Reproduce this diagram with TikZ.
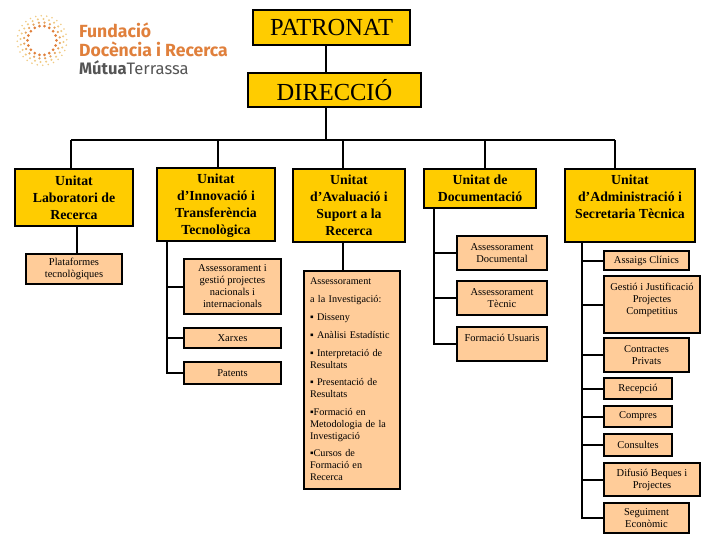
\documentclass[tikz,border=0pt]{standalone}
\usepackage{fontspec}
\setmainfont{Liberation Serif}
\newfontfamily\logofont{Fira Sans}
\definecolor{gold}{HTML}{FFCC00}
\definecolor{peach}{HTML}{FFCC99}
\definecolor{logoor}{HTML}{E0803C}
\definecolor{logomd}{HTML}{E5A35F}
\definecolor{logoyl}{HTML}{F0CB85}
\definecolor{logogr}{HTML}{555555}
\tikzset{
  topbox/.style={draw=black,line width=2.2pt,fill=gold,inner sep=0pt,align=center,font=\fontsize{24.5}{28}\selectfont},
  unitbox/.style={draw=black,line width=2.2pt,fill=gold,inner sep=0pt,align=center,font=\fontsize{13.8}{17}\selectfont\bfseries},
  subbox/.style={draw=black,line width=2pt,fill=peach,inner sep=0pt,align=center,font=\fontsize{10.5}{12}\selectfont},
  conn/.style={draw=black,line width=2pt},
  logotext/.style={inner sep=0pt,anchor=base west,font=\logofont}
}
\newcommand{\bx}[7]{\node[#6,minimum width={(#4-#2)*1pt},minimum height={(#5-#3)*1pt}] (#1) at ({(#2+#4)/2},{(#3+#5)/2}) {#7};}
\begin{document}
\begin{tikzpicture}[x=1pt,y=-1pt]
\useasboundingbox (0,0) rectangle (720,540);
% logo
\foreach \r/\n/\c/\s/\o in {14.5/18/logoor/1.5/0,18/20/logomd/1.25/8,21.5/24/logoyl/1.15/4,24.8/28/logoyl/0.9/11}{
  \foreach \i in {1,...,\n}{
    \fill[\c] ({42+\r*cos(\i*360/\n+\o)},{40.5+\r*sin(\i*360/\n+\o)}) circle (\s);
  }
}
\node[logotext,text=logoor] (fund) at (79,38) {\fontsize{17.6}{20}\selectfont\bfseries Fundació};
\node[logotext,text=logoor] (doc) at (79,57) {\fontsize{17.6}{20}\selectfont\bfseries Docència i Recerca};
\node[logotext,text=logogr] (mut) at (79,75) {\fontsize{16.6}{20}\selectfont\textbf{Mútua}Terrassa};
% top
\bx{pat}{253}{10}{410}{45}{topbox}{PATRONAT}
\bx{dir}{248}{73}{421}{107}{topbox}{DIRECCIÓ}
% units
\bx{lab}{15}{169}{133}{226}{unitbox}{Unitat\\Laboratori de\\Recerca}
\bx{inn}{157}{168}{275}{241}{unitbox}{Unitat\\d’Innovació i\\Transferència\\\smash{Tecnològica}}
\bx{ava}{293}{169}{405}{242}{unitbox}{Unitat\\d’Avaluació i\\Suport a la\\Recerca}
\bx{docu}{424}{169}{536}{208}{unitbox}{Unitat de\\Documentació}
\bx{adm}{565}{169}{695}{242}{unitbox}{Unitat\\d’Administració i\\Secretaria Tècnica\\ \mbox{}}
% subs
\bx{pla}{26}{254}{122}{284}{subbox}{Plataformes\\tecnològiques}
\bx{ges}{184}{259}{281}{314}{subbox}{Assessorament i\\gestió projectes\\nacionals i\\internacionals}
\bx{xar}{184}{328}{281}{348}{subbox}{Xarxes}
\bx{ptn}{184}{362}{281}{384}{subbox}{Patents}
\node[subbox,minimum width=96pt,minimum height=218pt,text width=83pt,align=left,font=\fontsize{10.2}{12}\selectfont] (ase) at (351.5,379.5) {Assessorament\\[6pt]a la Investigació:\\[6pt]▪ Disseny\\[5.6pt]▪ Anàlisi Estadístic\\[5.6pt]▪ Interpretació de\\Resultats\\[5.6pt]▪ Presentació de\\Resultats\\[5.6pt]▪Formació en\\Metodologia de la\\Investigació\\[5.6pt]▪Cursos de\\Formació en\\Recerca};
\bx{adoc}{457}{236}{547}{270}{subbox}{Assessorament\\Documental}
\bx{atec}{457}{281}{547}{315}{subbox}{Assessorament\\Tècnic}
\bx{fus}{457}{327}{547}{361}{subbox}{Formació Usuaris\\ \mbox{}}
\bx{ass}{604}{251}{689}{270}{subbox}{Assaigs Clínics}
\bx{gjp}{604}{276}{700}{333}{subbox}{Gestió i Justificació\\Projectes\\Competitius\\ \mbox{}}
\bx{con}{604}{338}{689}{372}{subbox}{Contractes\\Privats}
\bx{rec}{604}{378}{672}{399}{subbox}{Recepció}
\bx{com}{604}{406}{672}{427}{subbox}{Compres}
\bx{cns}{604}{434}{672}{456}{subbox}{Consultes}
\bx{dif}{604}{463}{700}{496}{subbox}{Difusió Beques i\\Projectes}
\bx{seg}{604}{503}{689}{533}{subbox}{Seguiment\\Econòmic}
% junction coordinates
\coordinate (stem) at (326,0);
\coordinate (hub) at (326,140);
\coordinate (hl) at (71,140);
\coordinate (hi) at (218,140);
\coordinate (ha) at (343,140);
\coordinate (hd) at (485,140);
\coordinate (hr) at (615,140);
\coordinate (pl) at (77,0);
\coordinate (ti) at (167,242);
\coordinate (td) at (434,209);
\coordinate (tr) at (582,243);
% connectors
\draw[conn] (stem |- pat.south) -- (stem |- dir.north);
\draw[conn] (stem |- dir.south) -- (hub);
\draw[conn] (hl) -- (hr);
\draw[conn] (hl) -- (hl |- lab.north);
\draw[conn] (hi) -- (hi |- inn.north);
\draw[conn] (ha) -- (ha |- ava.north);
\draw[conn] (hd) -- (hd |- docu.north);
\draw[conn] (hr) -- (hr |- adm.north);
\draw[conn] (pl |- lab.south) -- (pl |- pla.north);
\draw[conn] (ha |- ava.south) -- (ha |- ase.north);
\draw[conn] (ti) -- (ti |- ptn.west) -- (ptn.west);
\draw[conn] (ges.west) -- (ges.west -| ti);
\draw[conn] (xar.west) -- (xar.west -| ti);
\draw[conn] (td) -- (td |- fus.west) -- (fus.west);
\draw[conn] (adoc.west) -- (adoc.west -| td);
\draw[conn] (atec.west) -- (atec.west -| td);
\draw[conn] (tr) -- (tr |- seg.west) -- (seg.west);
\foreach \n in {ass,gjp,con,rec,com,cns,dif}{
  \draw[conn] (\n.west) -- (\n.west -| tr);
}
\end{tikzpicture}
\end{document}
